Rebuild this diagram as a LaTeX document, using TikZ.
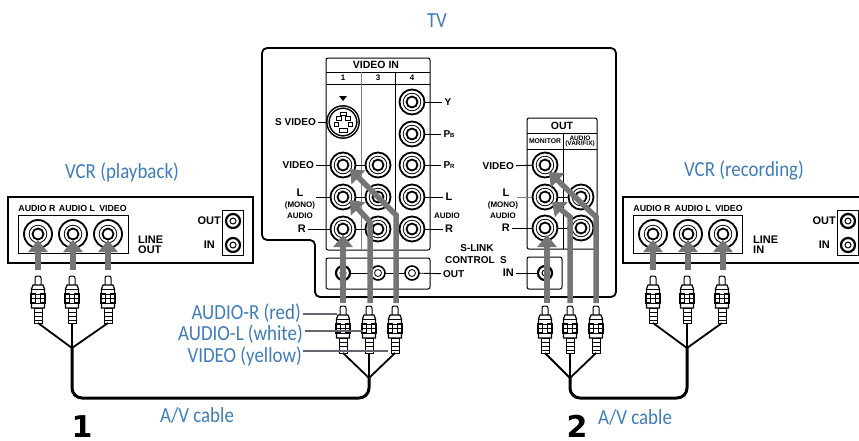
\documentclass[tikz,border=0pt]{standalone}
\usepackage{fontspec}
\setmainfont{Liberation Sans}
\newfontfamily\bluefont[FakeStretch=0.88]{Carlito}
\newfontfamily\numfont{DejaVu Sans}
\usepackage{xcolor}
\usetikzlibrary{positioning, arrows.meta}
\definecolor{labelblue}{HTML}{3F7CB9}
\definecolor{arrowgray}{HTML}{757575}
\definecolor{pointgray}{HTML}{666673}
\newcommand{\sizefont}[1]{\fontsize{#1}{#1}\selectfont}
\tikzset{
	panel/.style={line width=1.8, rounded corners=5},
	subpanel/.style={line width=1, rounded corners=2},
	jack/.style={circle, draw, line width=1.8, fill=white, minimum size=25, inner sep=0,
		path picture={
			\draw[line width=.8] (path picture bounding box.center) circle (8.8pt);
			\draw[line width=1.8] (path picture bounding box.center) circle (5.5pt);
		}},
	minijack/.style={circle, draw, line width=1.6, fill=white, minimum size=14, inner sep=0,
		path picture={\draw[line width=.8] (path picture bounding box.center) circle (3.5pt);}},
	darkjack/.style={minijack, line width=2.2,
		path picture={\draw[line width=1] (path picture bounding box.center) circle (3pt);}},
	lead/.style={line width=.9},
	flow/.style={draw=arrowgray, line width=5.5, -{Triangle[length=12pt,width=19pt]}},
	pointer/.style={draw=pointgray, line width=2.2},
	wire/.style={line width=1.8},
	maincable/.style={line width=3, rounded corners=10},
	tag/.style={font=\bfseries\sizefont{10}, inner sep=2},
	smalltag/.style={font=\bfseries\sizefont{8}, inner sep=0},
	bluetag/.style={font=\bluefont\sizefont{21.5}, text=labelblue, inner sep=0},
	bignum/.style={font=\numfont\bfseries\sizefont{30}, inner sep=0},
	plug/.pic={
		\draw[line width=1, fill=white, rounded corners=2] (-3,10) -- (-3,0) -- (3,0) -- (3,10);
		\draw[line width=1.2, fill=white] (-5,9) -- (5,9) -- (6.5,13) -- (6.5,32) -- (-6.5,32) -- (-6.5,13) -- cycle;
		\draw[line width=1] (-6.5,13) -- (6.5,13) (-6.5,18) -- (6.5,18);
		\draw[line width=1.2, fill=white] (-7,18) rectangle (-2.5,27);
		\draw[line width=1.2, fill=white] (7,18) rectangle (2.5,27);
		\draw[line width=1] (-6.5,22.5) -- (6.5,22.5) (-6.5,27) -- (6.5,27);
		\draw[line width=1, fill=white] (-4,32) -- (4,32) -- (4,47) -- (-4,47) -- cycle;
		\draw[line width=.8] (-4,36) -- (4,36) (-4,40) -- (4,40) (-4,44) -- (4,44);
		\coordinate (-end) at (0,47);
	}
}
\begin{document}
\begin{tikzpicture}[x=1pt, y=-1pt]
	\useasboundingbox (0,0) rectangle (859,440);

	% TV back panel
	\node[bluetag] (tvTitle) at (437,21) {TV};
	\draw[panel] (262,48) -- (616,48) -- (616,297) -- (315,297) -- (315,240) -- (262,240) -- cycle;

	% VIDEO IN block
	\draw[subpanel] (326,58) rectangle (430,250);
	\draw[line width=1] (326,72) -- (430,72);
	\draw[line width=1] (326,84) -- (430,84);
	\draw[line width=1, draw=gray] (361,72) -- (361,250);
	\draw[line width=1] (395,72) -- (395,250);
	\node[tag, font=\bfseries\sizefont{10.5}] (vidIn) at (376,65) {VIDEO IN};
	\node[smalltag] (colOne) at (343,78) {1};
	\node[smalltag] (colThree) at (378,78) {3};
	\node[smalltag] (colFour) at (412,78) {4};
	\fill (339,96) -- (347,96) -- (343,101) -- cycle;

	\node[circle, draw, line width=1.5, fill=white, minimum size=30, inner sep=0, double, double distance=.8] (jSvid) at (343,122) {};
	\draw[line width=.9] (336,116) rectangle (341,120) (345,116) rectangle (350,120);
	\draw[line width=.9] (334,122) rectangle (338,126) (348,122) rectangle (352,126);
	\draw[line width=.9] (340,112) rectangle (346,115) (339,128) rectangle (347,132);

	\node[jack] (jVidA) at (343,165) {};
	\node[jack] (jVidB) at (378,165) {};
	\node[jack] (jVidC) at (412,165) {};
	\node[jack] (jLA) at (343,197) {};
	\node[jack] (jLB) at (378,197) {};
	\node[jack] (jLC) at (412,197) {};
	\node[jack] (jRA) at (343,229) {};
	\node[jack] (jRB) at (378,229) {};
	\node[jack] (jRC) at (412,229) {};
	\node[jack] (jY) at (412,102) {};
	\node[jack] (jPb) at (412,134) {};

	\draw[lead] (jVidA) -- (jVidB);
	\draw[lead] (jLA) -- (jLB);
	\draw[lead] (jRA) -- (jRB);

	% labels left of VIDEO IN
	\node[tag, anchor=east] (lbSvid) at (318,122) {S VIDEO};
	\node[tag, anchor=east] (lbVid) at (316,165) {VIDEO};
	\node[tag, anchor=center, font=\bfseries\sizefont{11}] (lbL) at (300,193) {L};
	\node[smalltag] (lbMono) at (300,205) {(MONO)};
	\node[smalltag] (lbAudio) at (300,216) {AUDIO};
	\node[tag, anchor=east, font=\bfseries\sizefont{11}] (lbR) at (308,229) {R};
	\coordinate (stubL) at (316,197);
	\draw[lead] (lbSvid) -- (jSvid);
	\draw[lead] (lbVid) -- (jVidA);
	\draw[lead] (stubL) -- (jLA);
	\draw[lead] (lbR) -- (jRA);

	% labels right of VIDEO IN
	\node[tag] (lbY) at (448,102) {Y};
	\node[tag] (lbPb) at (449,134) {P{\sizefont{6}B}};
	\node[tag] (lbPr) at (449,165) {P{\sizefont{6}R}};
	\node[tag, font=\bfseries\sizefont{11}] (lbLb) at (449,197) {L};
	\node[smalltag] (lbAudioB) at (447,216) {AUDIO};
	\node[tag, font=\bfseries\sizefont{11}] (lbRb) at (449,229) {R};
	\draw[lead] (jY) -- (lbY);
	\draw[lead] (jPb) -- (lbPb);
	\draw[lead] (jVidC) -- (lbPr);
	\draw[lead] (jLC) -- (lbLb);
	\draw[lead] (jRC) -- (lbRb);

	% S-LINK block
	\draw[subpanel] (326,258) rectangle (430,289);
	\node[darkjack] (jLinkA) at (343,273) {};
	\node[minijack] (jLinkB) at (378,273) {};
	\node[minijack] (jLinkC) at (412,273) {};
	\node[tag, anchor=west, inner sep=2] (lbOutS) at (441,274) {OUT};
	\draw[lead] (jLinkA) -- (jLinkB);
	\draw[lead] (jLinkB) -- (jLinkC);
	\draw[lead] (jLinkC) -- (lbOutS);
	\node[tag] (lbSlink) at (477,248) {S-LINK};
	\node[tag, anchor=west, inner sep=0] (lbControl) at (445,260) {CONTROL\ \ S};

	% OUT block
	\draw[subpanel] (527,118) rectangle (597,249);
	\draw[line width=1] (527,133) -- (597,133);
	\draw[line width=1] (527,149) -- (597,149);
	\draw[line width=1] (563,133) -- (563,249);
	\node[tag, font=\bfseries\sizefont{10.5}] (outHead) at (562,126) {OUT};
	\node[smalltag, font=\bfseries\sizefont{6.8}] (lbMonitor) at (545,141) {MONITOR};
	\node[smalltag, font=\bfseries\sizefont{6.5}, align=center] (lbVarfix) at (580,141) {AUDIO\\[-1.5pt](VAR/FIX)};
	\node[jack] (jOutV) at (545,165) {};
	\node[jack] (jOutL) at (545,197) {};
	\node[jack] (jOutR) at (545,228) {};
	\node[jack] (jOutLb) at (581,197) {};
	\node[jack] (jOutRb) at (581,228) {};
	\draw[lead] (jOutL) -- (jOutLb);
	\draw[lead] (jOutR) -- (jOutRb);
	\node[tag, anchor=east] (lbOutV) at (516,166) {VIDEO};
	\node[tag, font=\bfseries\sizefont{11}] (lbOutL) at (506,193) {L};
	\node[smalltag] (lbOutMono) at (503,205) {(MONO)};
	\node[smalltag] (lbOutAudio) at (503,216) {AUDIO};
	\node[tag, anchor=east, font=\bfseries\sizefont{11}] (lbOutR) at (512,228) {R};
	\coordinate (stubOutL) at (517,197);
	\draw[lead] (lbOutV) -- (jOutV);
	\draw[lead, draw=gray] (stubOutL) -- (jOutL);
	\draw[lead] (lbOutR) -- (jOutR);

	\draw[subpanel] (527,257) rectangle (562,289);
	\node[darkjack] (jIn) at (545,273) {};
	\node[tag, anchor=east, font=\bfseries\sizefont{11}] (lbIn) at (516,273) {IN};
	\draw[lead] (lbIn) -- (jIn);

	% VCR (playback)
	\node[bluetag] (vcrLeft) at (122,172) {VCR (playback)};
	\draw[line width=1.5] (8,197) rectangle (253,263);
	\draw[line width=1] (18,215) rectangle (128,253);
	\node[smalltag, font=\bfseries\sizefont{8.8}] (lbAudR) at (37,208) {AUDIO R};
	\node[smalltag, font=\bfseries\sizefont{8.8}] (lbAudL) at (77,208) {AUDIO L};
	\node[smalltag, font=\bfseries\sizefont{8.8}] (lbVcrV) at (113,208) {VIDEO};
	\node[jack, minimum size=28] (jAudR) at (38,234) {};
	\node[jack, minimum size=28] (jAudL) at (73,234) {};
	\node[jack, minimum size=28] (jVcrV) at (108,234) {};
	\node[tag, anchor=west, inner sep=0, align=left, font=\bfseries\sizefont{11}] (lbLineOut) at (138,245) {LINE\\[-1pt]OUT};
	\draw[line width=1] (222,210) rectangle (243,255);
	\node[darkjack] (jVcrOut) at (233,221) {};
	\node[darkjack] (jVcrIn) at (233,245) {};
	\node[tag, anchor=east, font=\bfseries\sizefont{11}] (lbVcrOut) at (223,221) {OUT};
	\node[tag, anchor=east, font=\bfseries\sizefont{11}] (lbVcrIn) at (217,245) {IN};

	% VCR (recording), runs off the right edge
	\node[bluetag] (vcrRight) at (744,170) {VCR (recording)};
	\draw[line width=1.5] (859,197) -- (623,197) -- (623,263) -- (859,263);
	\draw[line width=1] (633,215) rectangle (742,253);
	\node[smalltag, font=\bfseries\sizefont{8.8}] (lbRecR) at (652,208) {AUDIO R};
	\node[smalltag, font=\bfseries\sizefont{8.8}] (lbRecL) at (693,208) {AUDIO L};
	\node[smalltag, font=\bfseries\sizefont{8.8}] (lbRecV) at (729,208) {VIDEO};
	\node[jack, minimum size=28] (jRecR) at (653,234) {};
	\node[jack, minimum size=28] (jRecL) at (688,234) {};
	\node[jack, minimum size=28] (jRecV) at (723,234) {};
	\node[tag, anchor=west, inner sep=0, align=left, font=\bfseries\sizefont{11}] (lbLineIn) at (753,245) {LINE\\[-1pt]IN};
	\draw[line width=1] (837,210) rectangle (858,255);
	\node[darkjack] (jRecOut) at (848,221) {};
	\node[darkjack] (jRecIn) at (848,245) {};
	\node[tag, anchor=east, font=\bfseries\sizefont{11}] (lbRecOut) at (838,221) {OUT};
	\node[tag, anchor=east, font=\bfseries\sizefont{11}] (lbRecIn) at (832,245) {IN};

	% plugs
	\pic (pA) at (38,276) {plug};
	\pic (pB) at (72,276) {plug};
	\pic (pC) at (108,276) {plug};
	\pic (pD) at (343,306) {plug};
	\pic (pE) at (369,306) {plug};
	\pic (pF) at (395,306) {plug};
	\pic (pG) at (545,306) {plug};
	\pic (pH) at (570,306) {plug};
	\pic (pI) at (596,306) {plug};
	\pic (pJ) at (653,276) {plug};
	\pic (pK) at (687,276) {plug};
	\pic (pL) at (722,276) {plug};

	% cables
	\coordinate (joinA) at (72,348);
	\coordinate (joinB) at (369,378);
	\coordinate (joinC) at (570,378);
	\coordinate (joinD) at (687,348);
	\coordinate (lowA) at (72,398);
	\coordinate (lowB) at (369,398);
	\coordinate (lowC) at (570,398);
	\coordinate (lowD) at (687,398);
	\draw[wire] (pA-end) -- (joinA);
	\draw[wire] (pB-end) -- (joinA);
	\draw[wire] (pC-end) -- (joinA);
	\draw[wire] (pD-end) -- (joinB);
	\draw[wire] (pE-end) -- (joinB);
	\draw[wire] (pF-end) -- (joinB);
	\draw[wire] (pG-end) -- (joinC);
	\draw[wire] (pH-end) -- (joinC);
	\draw[wire] (pI-end) -- (joinC);
	\draw[wire] (pJ-end) -- (joinD);
	\draw[wire] (pK-end) -- (joinD);
	\draw[wire] (pL-end) -- (joinD);
	\draw[maincable] (joinA) -- (lowA) -- (lowB) -- (joinB);
	\draw[maincable] (joinC) -- (lowC) -- (lowD) -- (joinD);

	% signal arrows
	\coordinate (fromA) at (38,270);
	\coordinate (tipA) at (38,240);
	\coordinate (fromB) at (73,270);
	\coordinate (tipB) at (73,240);
	\coordinate (fromC) at (108,270);
	\coordinate (tipC) at (108,240);
	\coordinate (fromJ) at (653,270);
	\coordinate (tipJ) at (653,240);
	\coordinate (fromK) at (688,270);
	\coordinate (tipK) at (688,240);
	\coordinate (fromL) at (723,270);
	\coordinate (tipL) at (723,240);
	\draw[flow] (fromA) -- (tipA);
	\draw[flow] (fromB) -- (tipB);
	\draw[flow] (fromC) -- (tipC);
	\draw[flow] (fromJ) -- (tipJ);
	\draw[flow] (fromK) -- (tipK);
	\draw[flow] (fromL) -- (tipL);

	\coordinate (fromD) at (343,303);
	\coordinate (tipD) at (343,235);
	\coordinate (fromE) at (370,303);
	\coordinate (bendE) at (370,222);
	\coordinate (tipE) at (350,200);
	\coordinate (fromF) at (396,303);
	\coordinate (bendF) at (396,215);
	\coordinate (tipF) at (350,169);
	\draw[flow] (fromD) -- (tipD);
	\draw[flow] (fromE) -- (bendE) -- (tipE);
	\draw[flow] (fromF) -- (bendF) -- (tipF);

	\coordinate (fromG) at (547,303);
	\coordinate (tipG) at (547,235);
	\coordinate (fromH) at (570,303);
	\coordinate (bendH) at (570,217);
	\coordinate (tipH) at (552,202);
	\coordinate (fromI) at (596,303);
	\coordinate (bendI) at (596,217);
	\coordinate (tipI) at (549,172);
	\draw[flow] (fromG) -- (tipG);
	\draw[flow] (fromH) -- (bendH) -- (tipH);
	\draw[flow] (fromI) -- (bendI) -- (tipI);

	% cable colour labels
	\node[bluetag, anchor=east] (lbRed) at (301,313) {AUDIO-R (red)};
	\node[bluetag, anchor=east] (lbWhite) at (303,334) {AUDIO-L (white)};
	\node[bluetag, anchor=east] (lbYellow) at (302,356) {VIDEO (yellow)};
	\coordinate (ptRedA) at (303,314);
	\coordinate (ptRedB) at (337,314);
	\coordinate (ptWhiteA) at (305,331);
	\coordinate (ptWhiteB) at (363,331);
	\coordinate (ptYellowA) at (303,351);
	\coordinate (ptYellowB) at (388,351);
	\draw[pointer] (ptRedA) -- (ptRedB);
	\draw[pointer] (ptWhiteA) -- (ptWhiteB);
	\draw[pointer] (ptYellowA) -- (ptYellowB);

	\node[bluetag] (cableOne) at (197,415) {A/V cable};
	\node[bluetag] (cableTwo) at (635,417) {A/V cable};
	\node[bignum, anchor=base] (numOne) at (82,437) {1};
	\node[bignum, anchor=base] (numTwo) at (577,437) {2};
\end{tikzpicture}
\end{document}
